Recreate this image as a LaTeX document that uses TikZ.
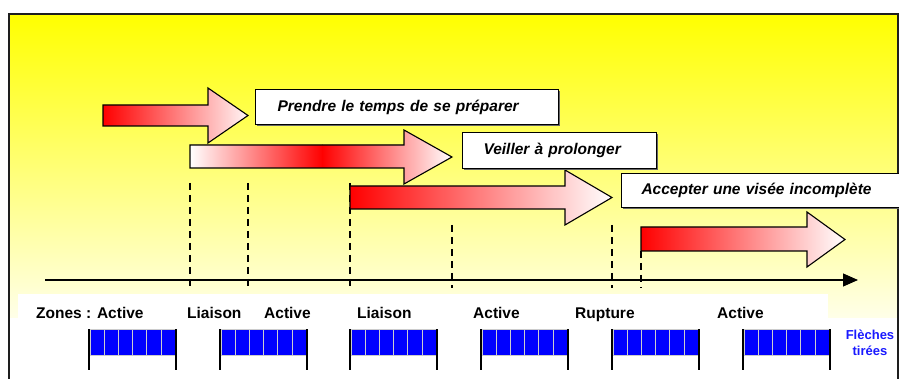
\documentclass[tikz,border=0pt]{standalone}
\usepackage{fontspec}
\setmainfont{Liberation Sans}
\usetikzlibrary{arrows.meta,shadows}
\definecolor{ared}{RGB}{255,0,0}
\definecolor{apale}{RGB}{255,246,246}
\definecolor{cellblue}{RGB}{0,0,255}
\definecolor{noteblue}{RGB}{25,25,255}
\definecolor{framecol}{RGB}{30,30,30}
\definecolor{bgtop}{RGB}{255,255,0}
\definecolor{bgbot}{RGB}{255,255,232}
\begin{document}
\begin{tikzpicture}[x=1pt,y=-1pt,
  outl/.style={draw=black, line width=1.1pt, line join=miter},
  textbox/.style={draw=black, line width=1.1pt, fill=white, anchor=north west,
    align=left, font=\fontsize{15.5}{18}\selectfont\bfseries\itshape,
    inner ysep=0pt, drop shadow={shadow xshift=1.5pt, shadow yshift=-1.5pt, fill=black!60, opacity=1}},
  zonelabel/.style={anchor=base west, inner sep=0pt, font=\fontsize{15.5}{18}\selectfont\bfseries},
  dashline/.style={draw=black, line width=1.2pt, dash pattern=on 7pt off 5pt},
  bar/.style={draw=black, line width=1.5pt},
  cell/.style={fill=cellblue, draw=black!20, line width=0.6pt}]
\useasboundingbox (0,0) rectangle (899,379);
\clip (0,0) rectangle (899,379);
% background
\fill[top color=bgtop, bottom color=bgbot] (9,14) rectangle (899,317);
\fill[white] (18,294) rectangle (828,400);
\draw[framecol, line width=1.4pt] (9,14) rectangle (898,420);
% dashed guide lines
\foreach \x/\yt [count=\i] in {190/183, 248/183, 350/183, 452/225, 612/225, 641/251}{
  \coordinate (dt\i) at (\x,\yt);
  \coordinate (db\i) at (\x,288);
  \draw[dashline] (dt\i) -- (db\i);
}
% time axis
\coordinate (ax0) at (45,280);
\coordinate (ax1) at (858,280);
\draw[line width=1.2pt, -{Triangle[length=15pt,width=13pt]}] (ax0) -- (ax1);
% arrow 1
\draw[outl, left color=ared, right color=apale]
  (103,105) -- (208,105) -- (208,88) -- (248,115.5) -- (208,143) -- (208,126) -- (103,126) -- cycle;
% arrow 2 (white - red - white)
\begin{scope}
  \clip (190,145) -- (404,145) -- (404,130) -- (452,157) -- (404,184) -- (404,168) -- (190,168) -- cycle;
  \fill[left color=white, right color=ared] (190,128) rectangle (322.5,186);
  \fill[left color=ared, right color=white] (322,128) rectangle (452,186);
\end{scope}
\draw[outl] (190,145) -- (404,145) -- (404,130) -- (452,157) -- (404,184) -- (404,168) -- (190,168) -- cycle;
% arrow 3
\draw[outl, left color=ared, right color=white]
  (350,186) -- (565,186) -- (565,170) -- (612,197.5) -- (565,225) -- (565,209) -- (350,209) -- cycle;
% arrow 4
\draw[outl, left color=ared, right color=white]
  (641,227) -- (807,227) -- (807,212) -- (845,239.5) -- (807,267) -- (807,251) -- (641,251) -- cycle;
% text boxes
\node[textbox, text width=259pt, inner xsep=22pt, minimum height=35pt] (b1) at (255,89) {Prendre le temps de se préparer};
\node[textbox, text width=152pt, inner xsep=21pt, minimum height=36pt] (b2) at (462,132) {Veiller à prolonger};
\node[textbox, text width=290pt, inner xsep=20pt, minimum height=34pt] (b3) at (621,173) {Accepter une visée incomplète};
% zone labels
\node[zonelabel] (z1) at (36,318) {Zones : Active};
\node[zonelabel] (z2) at (187,318) {Liaison};
\node[zonelabel] (z3) at (264,318) {Active};
\node[zonelabel] (z4) at (357,318) {Liaison};
\node[zonelabel] (z5) at (473,318) {Active};
\node[zonelabel] (z6) at (575,318) {Rupture};
\node[zonelabel] (z7) at (717,318) {Active};
% blue groups
\foreach \gx in {89,220,350,481,612,743}{
  \foreach \k in {0,...,5}{
    \path[cell] (\gx+1+\k*14.17,329.5) rectangle ++(14.17,25.5);
  }
  \draw[bar] (\gx,329) -- (\gx,370);
  \draw[bar] (\gx+87,329) -- (\gx+87,370);
}
\node[align=center, text=noteblue, inner sep=0pt, font=\fontsize{13}{16}\selectfont\bfseries, anchor=base] (ft) at (870,355) {Flèches\\tirées};
\end{tikzpicture}
\end{document}
